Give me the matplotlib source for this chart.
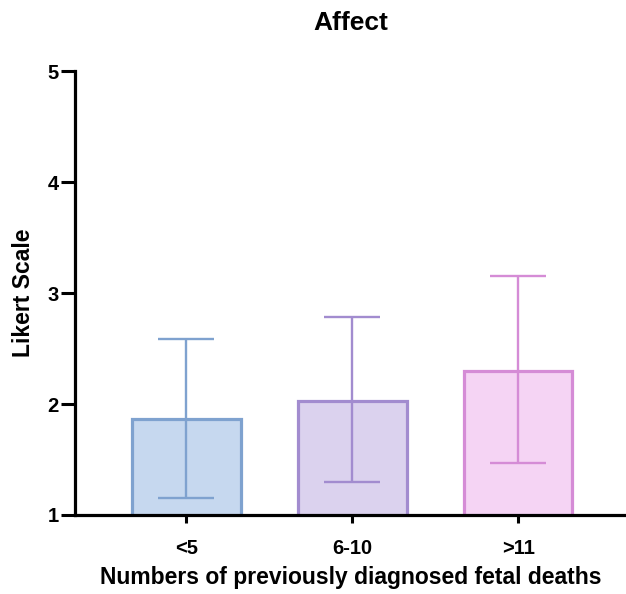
import matplotlib.pyplot as plt
import numpy as np

plt.rcParams['font.family'] = ['Liberation Sans', 'DejaVu Sans']
plt.rcParams['font.weight'] = 'bold'

# data
groups = ['<5', '6-10', '>11']
means = [1.865, 2.027, 2.297]
err_high = [2.586, 2.784, 3.153]
err_low = [1.153, 1.297, 1.468]

fill_colors = ['#c6d8ef', '#dbd2ee', '#f5d4f4']
edge_colors = ['#7fa2cf', '#a28ccf', '#d58cd6']

fig = plt.figure(figsize=(6.26, 5.94), dpi=100)
ax = fig.add_axes([0.12, 0.133, 0.88, 0.747])

x = np.arange(len(groups))
for i in range(len(groups)):
    ax.bar(x[i], means[i], width=0.655, color=fill_colors[i],
           edgecolor=edge_colors[i], linewidth=2.3, zorder=2)
    ax.errorbar(x[i], means[i],
                yerr=[[means[i] - err_low[i]], [err_high[i] - means[i]]],
                fmt='none', ecolor=edge_colors[i], elinewidth=1.7,
                capsize=20.5, capthick=1.7, zorder=3)

ax.set_xlim(-0.67, 2.65)
ax.set_ylim(1, 5)
ax.set_yticks([1, 2, 3, 4, 5])
ax.set_xticks(x)
ax.set_xticklabels(groups)

for s in ['top', 'right']:
    ax.spines[s].set_visible(False)
for s in ['left', 'bottom']:
    ax.spines[s].set_linewidth(2.3)

ax.tick_params(axis='y', length=10, width=2.2, labelsize=14.5, pad=2)
ax.tick_params(axis='x', length=6, width=2.2, labelsize=14.5, pad=11)

ax.set_ylabel('Likert Scale', fontsize=16.5, fontweight='bold', labelpad=9)
ax.set_xlabel('Numbers of previously diagnosed fetal deaths', fontsize=16.5,
              fontweight='bold', labelpad=6)
ax.set_title('Affect', fontsize=19, fontweight='bold', pad=30)

fig.savefig('out.png', dpi=100)
